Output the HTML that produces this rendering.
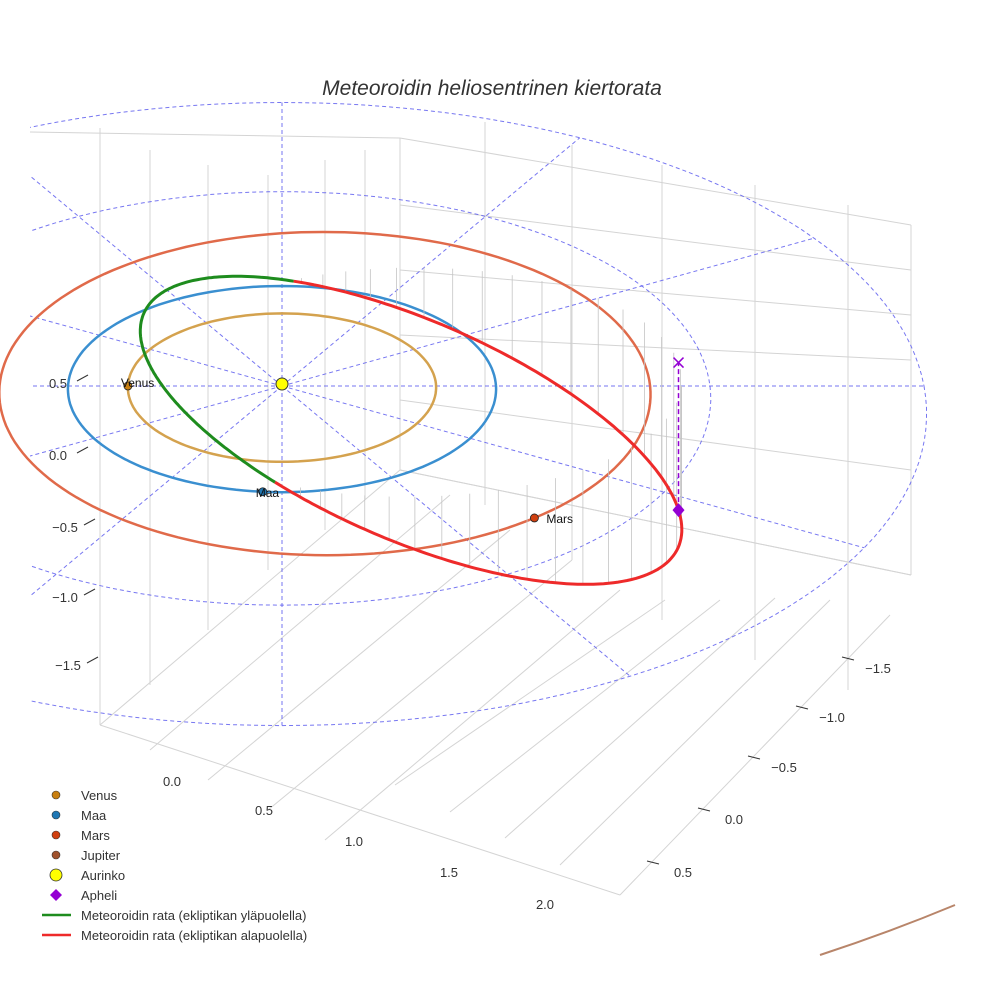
<!DOCTYPE html>
<html><head><meta charset="utf-8"><style>
body{margin:0;background:#fff;}
svg{display:block;font-family:"Liberation Sans",Arial,sans-serif;}
</style></head><body>
<svg id="chart" width="984" height="984" viewBox="0 0 984 984">
<rect width="984" height="984" fill="#fff"/>
<text x="492" y="95" text-anchor="middle" font-size="21" font-style="italic" fill="#333">Meteoroidin heliosentrinen kiertorata</text>
<defs><clipPath id="sc"><rect x="30" y="100" width="925" height="855"/></clipPath></defs>
<g id="box" stroke="#d4d4d4" stroke-width="1" fill="none">
<path d="M100,725 L100,128 M150,685 L150,150 M208,630 L208,165 M268,570 L268,175 M325,530 L325,160 M365,500 L365,150 M400,470 L400,138"/>
<path d="M485,505 L485,122 M572,560 L572,145 M662,620 L662,165 M755,660 L755,185 M848,690 L848,205 M911,575 L911,225"/>
<path d="M400,138 L911,225 M400,205 L911,270 M400,270 L911,315 M400,335 L911,360 M400,400 L911,470 M400,470 L911,575"/>
<path d="M30,132 L400,138 M100,725 L400,470 M150,750 L450,495 M208,780 L510,530 M268,810 L572,560 M325,840 L620,590"/>
<path d="M100,725 L620,895 M400,470 L911,575 M620,895 L890,615 M560,865 L830,600 M505,838 L775,598 M450,812 L720,600 M395,785 L665,600"/>
</g>
<g id="grid" clip-path="url(#sc)"></g>
<g id="marks"></g>
<g id="ticks" font-size="13" fill="#333"></g>
<path d="M820,955 Q890,932 955,905" stroke="#b8856a" stroke-width="2" fill="none"/>
<g id="legend" font-size="13" fill="#333"></g>
</svg>
<script>
// Data
const planetNames=["Venus","Maa","Mars"];
const planetRadii=[0.72,1.0,1.52];
const planetAngles=[180,95,52];
const planetColors=["#d4a24e","#3a8fd0","#e06a4a"];
const markerColors=["#c87f10","#1f77b4","#d04010"];
const orbitA=[1.27];
const orbitE=[0.48];
const periAngle=[173];
const nodeAngle=[92];
const gridRadii=[1,2,3];
const spokeAngles=[0,30,60,90,120,150,180,210,240,270,300,330];
const leftTicks=["0.5","0.0","\u22120.5","\u22121.0","\u22121.5"];
const bottomTicks=["0.0","0.5","1.0","1.5","2.0"];
const rightTicks=["\u22121.5","\u22121.0","\u22120.5","0.0","0.5"];
const legendLabels=["Venus","Maa","Mars","Jupiter","Aurinko","Apheli","Meteoroidin rata (ekliptikan yläpuolella)","Meteoroidin rata (ekliptikan alapuolella)"];
// projection with mild perspective
const CX=282,CY=386,SX=214,SY=103,KZ=80,KP=0.03;
function P(u,v,z){const s=1/(1-KP*v);return [CX+SX*u*s,CY+SY*v*s-KZ*(z||0)*s];}
const NS="http://www.w3.org/2000/svg";
function mk(t,parent,attrs){const e=document.createElementNS(NS,t);for(const k in attrs)e.setAttribute(k,attrs[k]);parent.appendChild(e);return e;}
const grid=document.getElementById('grid'),marks=document.getElementById('marks');
function circ(cu,r,n,sv){let d="";for(let i=0;i<=n;i++){const t=i/n*2*Math.PI;const p=P(cu+r*Math.cos(t),r*Math.sin(t)*(sv||1));d+=(i?"L":"M")+p[0].toFixed(1)+","+p[1].toFixed(1);}return d;}
gridRadii.forEach(r=>{const e=mk('path',grid,{d:circ(0,r,180),stroke:"#5555ee",'stroke-width':1,'stroke-dasharray':"4,3",fill:"none",opacity:0.8});

});
spokeAngles.forEach(a=>{const t=a*Math.PI/180;const p=P(3*Math.cos(t),3*Math.sin(t));const e=mk('line',grid,{x1:CX,y1:CY,x2:p[0],y2:p[1],stroke:"#5555ee",'stroke-width':1,'stroke-dasharray':"4,3",opacity:0.8});

});
// planet orbits
const centers=[0,0,0.2];
const vscale=[1,1,1.03];
planetRadii.forEach((r,i)=>{
const e=mk('path',marks,{d:circ(centers[i],r,180,vscale[i]),stroke:planetColors[i],'stroke-width':2.5,fill:"none"});

});
// meteoroid orbit
const a=orbitA[0],ec=orbitE[0],pl=a*(1-ec*ec);
const pts=[];
for(let k=0;k<=360;k++){const phi=k;const nu=(phi-periAngle[0])*Math.PI/180;const r=pl/(1+ec*Math.cos(nu));const t=phi*Math.PI/180;
const u=r*Math.cos(t),v=r*Math.sin(t),z=r*Math.sin((phi-nodeAngle[0])*Math.PI/180);pts.push([u,v,z]);}
pts.forEach((q,i)=>{if(q[2]<0&&i%5==0){const p1=P(q[0],q[1],q[2]),p0=P(q[0],q[1],0);
const e=mk('line',marks,{x1:p1[0],y1:p1[1],x2:p0[0],y2:p0[1],stroke:"#c4c4c4",'stroke-width':0.8});

}});
let dg="",dr="";let prevAbove=null;
pts.forEach((q,i)=>{const p=P(q[0],q[1],q[2]);const s=p[0].toFixed(1)+","+p[1].toFixed(1);
if(q[2]>=0){dg+=(dg&&prevAbove===true?"L":"M")+s;if(prevAbove===false)dr+="L"+s;prevAbove=true;}
else{dr+=(dr&&prevAbove===false?"L":"M")+s;if(prevAbove===true)dg+="L"+s;prevAbove=false;}});
let e1=mk('path',marks,{d:dr,stroke:"#ee2a2a",'stroke-width':3,fill:"none"});


let e2=mk('path',marks,{d:dg,stroke:"#1e8c1e",'stroke-width':3,fill:"none"});


// aphelion
const aph=pts[(periAngle[0]+180)%360];
const pa=P(aph[0],aph[1],aph[2]),pe=P(aph[0],aph[1],0);
let dl=mk('line',marks,{x1:pa[0],y1:pa[1],x2:pe[0],y2:pe[1],stroke:"#9400d3",'stroke-width':1.5,'stroke-dasharray':"5,3"});


let xm=mk('path',marks,{d:`M${pe[0]-5},${pe[1]-5}L${pe[0]+5},${pe[1]+5}M${pe[0]+5},${pe[1]-5}L${pe[0]-5},${pe[1]+5}`,stroke:"#9400d3",'stroke-width':1.5});


let am=mk('path',marks,{d:`M${pa[0]},${pa[1]-7}L${pa[0]+6},${pa[1]}L${pa[0]},${pa[1]+7}L${pa[0]-6},${pa[1]}Z`,fill:"#9400d3"});


// planets
planetNames.forEach((n,i)=>{const t=planetAngles[i]*Math.PI/180;const p=P(centers[i]+planetRadii[i]*Math.cos(t),planetRadii[i]*Math.sin(t)*vscale[i]);
const c=mk('circle',marks,{cx:p[0],cy:p[1],r:4,fill:markerColors[i],stroke:"#222",'stroke-width':0.8});


const tx=mk('text',marks,{x:p[0]+(i==2?12:-7),y:p[1]+(i==0?1:5),'font-size':12,fill:"#111"});tx.textContent=n;

});
const sun=mk('circle',marks,{cx:CX,cy:CY-2,r:6,fill:"#ffff00",stroke:"#333",'stroke-width':1});


// ticks
const tk=document.getElementById('ticks');
const lp=[[58,383],[58,455],[65,527],[65,597],[68,665]];
leftTicks.forEach((s,i)=>{const t=mk('text',tk,{x:lp[i][0],y:lp[i][1]+5,'text-anchor':'middle'});t.textContent=s;


mk('line',tk,{x1:lp[i][0]+19,y1:lp[i][1]-2,x2:lp[i][0]+30,y2:lp[i][1]-8,stroke:"#333"});});
const bp=[[172,781],[264,810],[354,841],[449,872],[545,904]];
bottomTicks.forEach((s,i)=>{const t=mk('text',tk,{x:bp[i][0],y:bp[i][1]+5,'text-anchor':'middle'});t.textContent=s;

});
const rp=[[878,668],[832,717],[784,767],[734,819],[683,872]];
rightTicks.forEach((s,i)=>{const t=mk('text',tk,{x:rp[i][0],y:rp[i][1]+5,'text-anchor':'middle'});t.textContent=s;


mk('line',tk,{x1:rp[i][0]-36,y1:rp[i][1]-11,x2:rp[i][0]-24,y2:rp[i][1]-8,stroke:"#333"});});
// legend
const lg=document.getElementById('legend');
const lcol=["#c87f10","#1f77b4","#d04010","#a0522d","#ffff00","#9400d3","#1e8c1e","#ee2a2a"];
legendLabels.forEach((s,i)=>{const y=795+i*20;
if(i<4){mk('circle',lg,{cx:56,cy:y,r:4,fill:lcol[i],stroke:"#333",'stroke-width':0.6});}
else if(i==4){mk('circle',lg,{cx:56,cy:y,r:6,fill:lcol[i],stroke:"#333",'stroke-width':0.8});}
else if(i==5){mk('path',lg,{d:`M56,${y-6}L62,${y}L56,${y+6}L50,${y}Z`,fill:lcol[i]});}
else{mk('line',lg,{x1:42,y1:y,x2:71,y2:y,stroke:lcol[i],'stroke-width':2.5});}
const t=mk('text',lg,{x:81,y:y+5});t.textContent=s;

});
</script>
</body></html>
